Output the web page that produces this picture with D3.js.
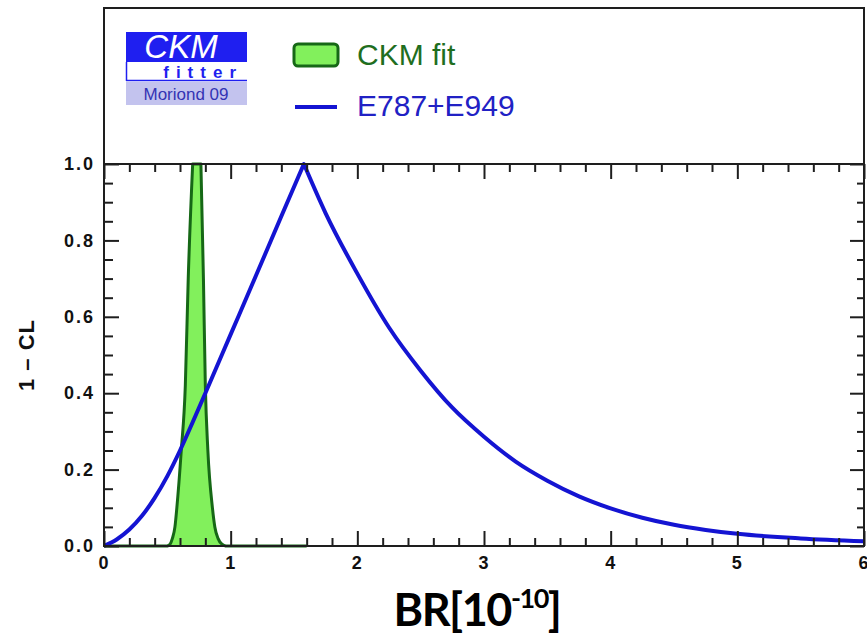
<!DOCTYPE html>
<html>
<head>
<meta charset="utf-8">
<script src="https://cdn.jsdelivr.net/npm/d3@7"></script>
<style>
  body { margin: 0; background: #fff; }
  svg { display: block; }
</style>
</head>
<body>
<svg id="chart" width="867" height="638"></svg>
<script>
// Branching ratio BR(K+ -> pi+ nu nubar) in units of 1e-10, and 1 - CL profiles

// E787+E949 measurement
const expBR = [0, 0.1, 0.2, 0.3, 0.4, 0.5, 0.6, 0.7, 0.8, 1.0, 1.2, 1.4, 1.578,
               1.75, 2.0, 2.25, 2.5, 2.75, 3.0, 3.25, 3.5, 3.75, 4.0, 4.25, 4.5, 4.75, 5.0, 5.5, 6.0];
const expCL = [0, 0.017, 0.043, 0.079, 0.126, 0.183, 0.25, 0.324, 0.40, 0.554, 0.708, 0.863, 1.0,
               0.871, 0.713, 0.572, 0.459, 0.362, 0.286, 0.221, 0.171, 0.130, 0.0985, 0.0739, 0.0554, 0.0421, 0.032, 0.0199, 0.0124];

// CKM fit prediction
const fitBR = [0, 0.50, 0.52, 0.54, 0.56, 0.575, 0.61, 0.642, 0.665, 0.70,
               0.765, 0.785, 0.80, 0.82, 0.856, 0.875, 0.90, 0.935, 0.96, 1.6];
const fitCL = [0, 0, 0.004, 0.02, 0.05, 0.10, 0.25, 0.42, 0.70, 1.0,
               1.0, 0.70, 0.42, 0.25, 0.10, 0.05, 0.02, 0.004, 0, 0];

const xMajor = [0, 1, 2, 3, 4, 5, 6];
const yMajor = [0, 0.2, 0.4, 0.6, 0.8, 1.0];
const seriesNames = ["CKM fit", "E787+E949"];

const fitFill = "#82f05c", fitStroke = "#166816", fitText = "#1f6e1f";
const expColor = "#1414d2", expText = "#2121c4";
const axisColor = "#1e1e1e";

const svg = d3.select("#chart");
const L = 104, R = 864, T = 8, SEP = 164, B = 546;

const x = d3.scaleLinear().domain([0, 6]).range([L, R]);
const y = d3.scaleLinear().domain([0, 1]).range([B, SEP]);

// monotone pieces joined into one path so cusps and plateaus stay sharp
function pieceLine(xs, ys) {
  const pts = xs.map((v, i) => [x(v), y(ys[i])]);
  const pieces = [];
  let cur = [pts[0]], dir = null;
  for (let i = 1; i < pts.length; i++) {
    const d = Math.sign(ys[i] - ys[i - 1]);
    if (cur.length > 1 && d !== dir) { pieces.push(cur); cur = [pts[i - 1]]; }
    dir = d;
    cur.push(pts[i]);
  }
  pieces.push(cur);
  const gen = d3.line().curve(d3.curveMonotoneX);
  return pieces.map((p, i) => i === 0 ? gen(p) : gen(p).replace(/^M[^A-Za-z]*/, "")).join("");
}

svg.append("rect").attr("width", 867).attr("height", 638).attr("fill", "#fff");

// CKM fit band
const fitPath = pieceLine(fitBR, fitCL);
svg.append("path").attr("d", fitPath + "Z").attr("fill", fitFill).attr("stroke", "none");
svg.append("path").attr("d", fitPath).attr("fill", "none")
  .attr("stroke", fitStroke).attr("stroke-width", 3).attr("stroke-linejoin", "round");

// experimental curve
svg.append("path").attr("d", pieceLine(expBR, expCL)).attr("fill", "none")
  .attr("stroke", expColor).attr("stroke-width", 4).attr("stroke-linejoin", "round");

// axes
const xMinor = d3.range(0, 6.001, 0.2).filter(v => Math.abs(v - Math.round(v)) > 1e-6);
const yMinor = d3.range(0, 1.001, 0.05).filter(v => Math.abs(v * 5 - Math.round(v * 5)) > 1e-6);

function styleAxis(g) {
  g.select(".domain").remove();
  g.selectAll(".tick line").attr("stroke", axisColor).attr("stroke-width", 2);
  g.selectAll("text").attr("fill", "#111").attr("font-family", "Liberation Sans, Arial, sans-serif")
    .attr("font-weight", "bold").attr("font-size", 18).attr("letter-spacing", 2);
}

// bottom
svg.append("g").attr("transform", `translate(0,${B})`)
  .call(d3.axisBottom(x).tickValues(xMajor).tickFormat(d3.format("d")).tickSize(-15).tickPadding(10))
  .call(styleAxis);
svg.append("g").attr("transform", `translate(0,${B})`)
  .call(d3.axisBottom(x).tickValues(xMinor).tickFormat("").tickSize(-8)).call(styleAxis);
// top of plot area
svg.append("g").attr("transform", `translate(0,${SEP})`)
  .call(d3.axisTop(x).tickValues(xMajor).tickFormat("").tickSize(-15)).call(styleAxis);
svg.append("g").attr("transform", `translate(0,${SEP})`)
  .call(d3.axisTop(x).tickValues(xMinor).tickFormat("").tickSize(-8)).call(styleAxis);
// left
svg.append("g").attr("transform", `translate(${L},0)`)
  .call(d3.axisLeft(y).tickValues(yMajor).tickFormat(d3.format(".1f")).tickSize(-15).tickPadding(9))
  .call(styleAxis);
svg.append("g").attr("transform", `translate(${L},0)`)
  .call(d3.axisLeft(y).tickValues(yMinor).tickFormat("").tickSize(-9)).call(styleAxis);
// right
svg.append("g").attr("transform", `translate(${R},0)`)
  .call(d3.axisRight(y).tickValues(yMajor).tickFormat("").tickSize(-14)).call(styleAxis);
svg.append("g").attr("transform", `translate(${R},0)`)
  .call(d3.axisRight(y).tickValues(yMinor).tickFormat("").tickSize(-7)).call(styleAxis);

// frame
svg.append("rect").attr("x", L).attr("y", T).attr("width", R - L).attr("height", B - T)
  .attr("fill", "none").attr("stroke", axisColor).attr("stroke-width", 2);
svg.append("line").attr("x1", L).attr("x2", R).attr("y1", SEP).attr("y2", SEP)
  .attr("stroke", axisColor).attr("stroke-width", 2);

// axis titles
svg.append("text").attr("transform", "translate(34,355) rotate(-90)")
  .attr("text-anchor", "middle").attr("font-family", "Liberation Sans, Arial, sans-serif")
  .attr("font-weight", "bold").attr("font-size", 22).attr("letter-spacing", 1).attr("fill", "#111")
  .text("1 \u2013 CL");

const xt = svg.append("text").attr("x", 477).attr("y", 626).attr("text-anchor", "middle")
  .attr("font-family", "Lato, sans-serif").attr("font-weight", "bold").attr("font-size", 45)
  .attr("letter-spacing", -1.5).attr("fill", "#000");
xt.append("tspan").text("BR[10");
xt.append("tspan").attr("dy", -18).attr("font-size", 27).text("-10");
xt.append("tspan").attr("dy", 18).text("]");

// logo
const logo = svg.append("g");
logo.append("rect").attr("x", 126).attr("y", 32).attr("width", 121).attr("height", 30).attr("fill", "#1f1ff0");
logo.append("rect").attr("x", 126).attr("y", 62).attr("width", 121).attr("height", 19).attr("fill", "#fff");
logo.append("line").attr("x1", 126.5).attr("x2", 126.5).attr("y1", 62).attr("y2", 81).attr("stroke", "#1f1ff0").attr("stroke-width", 1.5);
logo.append("line").attr("x1", 126).attr("x2", 247).attr("y1", 80.5).attr("y2", 80.5).attr("stroke", "#1f1ff0").attr("stroke-width", 1.5);
logo.append("rect").attr("x", 126).attr("y", 82).attr("width", 121).attr("height", 23).attr("fill", "#c3c3ee");
logo.append("text").attr("x", 181).attr("y", 58).attr("text-anchor", "middle")
  .attr("font-family", "Liberation Sans, Arial, sans-serif").attr("font-style", "italic")
  .attr("font-size", 33).attr("fill", "#fff").text("CKM");
logo.append("text").attr("x", 243).attr("y", 78).attr("text-anchor", "end")
  .attr("font-family", "Liberation Sans, Arial, sans-serif").attr("font-weight", "bold")
  .attr("font-size", 17).attr("letter-spacing", 7).attr("fill", "#1f1ff0").text("fitter");
logo.append("text").attr("x", 186).attr("y", 100).attr("text-anchor", "middle")
  .attr("font-family", "Liberation Sans, Arial, sans-serif")
  .attr("font-size", 17).attr("fill", "#3434b4").text("Moriond 09");

// legend
const leg = svg.append("g");
leg.append("rect").attr("x", 294).attr("y", 44).attr("width", 44).attr("height", 22).attr("rx", 4)
  .attr("fill", fitFill).attr("stroke", fitStroke).attr("stroke-width", 3);
leg.append("text").attr("x", 357).attr("y", 65).attr("font-family", "Liberation Sans, Arial, sans-serif")
  .attr("font-size", 30).attr("fill", fitText).text(seriesNames[0]);
leg.append("line").attr("x1", 295).attr("x2", 337).attr("y1", 107).attr("y2", 107)
  .attr("stroke", expColor).attr("stroke-width", 4);
leg.append("text").attr("x", 357).attr("y", 116).attr("font-family", "Liberation Sans, Arial, sans-serif")
  .attr("font-size", 30).attr("fill", expText).text(seriesNames[1]);
</script>
</body>
</html>
